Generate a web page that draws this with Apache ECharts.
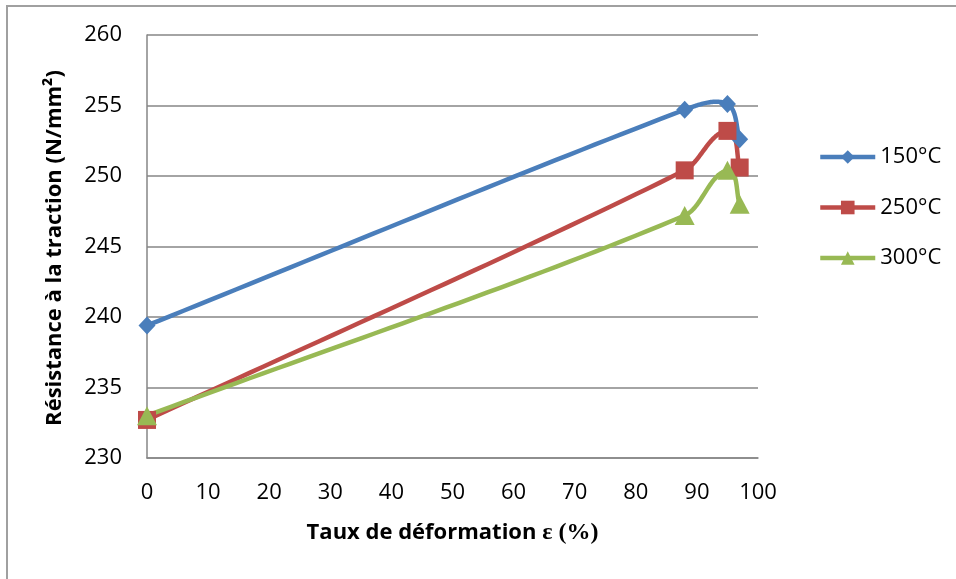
<!DOCTYPE html>
<html>
<head>
<meta charset="utf-8">
<script src="https://cdn.jsdelivr.net/npm/echarts@6/dist/echarts.min.js"></script>
<style>
  html, body { margin: 0; padding: 0; background: #fff; }
  #chart { width: 956px; height: 579px; }
</style>
</head>
<body>
<div id="chart"></div>
<script>
// Deformation rate (%) at each measurement
const strain = [0, 88, 95, 97];

// Tensile strength (N/mm²) per annealing temperature
const temperatures = ['150°C', '250°C', '300°C'];
const strength150 = [239.4, 254.7, 255.1, 252.6];
const strength250 = [232.7, 250.4, 253.2, 250.6];
const strength300 = [233.0, 247.2, 250.4, 248.0];

const colors = ['#4a7ebb', '#be4b48', '#98b954'];
const symbols = ['diamond', 'rect', 'triangle'];
const symbolSizes = [[17, 18], [18, 18], [20, 19]];
const seriesValues = [strength150, strength250, strength300];

const labelFont = '"Open Sans", "Noto Sans", sans-serif';
const LINE_W = 4.5;

// Smoothed curve through the points (pixel space): tangent at each point runs
// parallel to its neighbours' chord, handle length a fraction of the segment.
function smoothPolyline(P, k, steps) {
  const n = P.length;
  const unit = (a, b) => {
    const dx = b[0] - a[0], dy = b[1] - a[1];
    const l = Math.hypot(dx, dy) || 1;
    return [dx / l, dy / l];
  };
  const T = P.map((p, i) => {
    if (i === 0) return unit(P[0], P[1]);
    if (i === n - 1) return unit(P[n - 2], P[n - 1]);
    return unit(P[i - 1], P[i + 1]);
  });
  const out = [P[0]];
  for (let i = 0; i < n - 1; i++) {
    const a = P[i], b = P[i + 1];
    const L = Math.hypot(b[0] - a[0], b[1] - a[1]) * k;
    const c1 = [a[0] + T[i][0] * L, a[1] + T[i][1] * L];
    const c2 = [b[0] - T[i + 1][0] * L, b[1] - T[i + 1][1] * L];
    for (let s = 1; s <= steps; s++) {
      const t = s / steps, u = 1 - t;
      out.push([
        u * u * u * a[0] + 3 * u * u * t * c1[0] + 3 * u * t * t * c2[0] + t * t * t * b[0],
        u * u * u * a[1] + 3 * u * u * t * c1[1] + 3 * u * t * t * c2[1] + t * t * t * b[1]
      ]);
    }
  }
  return out;
}

const chart = echarts.init(document.getElementById('chart'), null, { renderer: 'canvas' });

const series = [];
temperatures.forEach((name, i) => {
  const data = strain.map((x, j) => [x, seriesValues[i][j]]);
  // Smoothed line, drawn from the axis scales
  series.push({
    name: name + ' (courbe)',
    type: 'custom',
    coordinateSystem: 'cartesian2d',
    data: data,
    z: 2,
    silent: true,
    renderItem: (params, api) => {
      if (params.dataIndex !== 0) return null;
      const pts = data.map(d => api.coord(d));
      return {
        type: 'polyline',
        shape: { points: smoothPolyline(pts, 0.3, 40) },
        style: { fill: 'none', stroke: colors[i], lineWidth: LINE_W, lineJoin: 'round', lineCap: 'round' }
      };
    }
  });
  // Markers (and legend entry)
  series.push({
    name: name,
    type: 'line',
    data: data,
    symbol: symbols[i],
    symbolSize: symbolSizes[i],
    showAllSymbol: true,
    lineStyle: { color: colors[i], width: LINE_W, opacity: 0 },
    itemStyle: { color: colors[i], borderWidth: 0 },
    z: 5 + i
  });
});

chart.setOption({
  animation: false,
  backgroundColor: '#ffffff',
  graphic: [{
    type: 'rect',
    shape: { x: 7, y: 6, width: 1200, height: 1200 },
    style: { fill: 'none', stroke: '#a0a0a0', lineWidth: 2 },
    silent: true
  }, {
    type: 'text',
    x: 55,
    y: 248,
    rotation: Math.PI / 2,
    style: {
      text: 'Résistance à la traction (N/mm²)',
      font: 'bold 22px "Open Sans", "Noto Sans", sans-serif',
      fill: '#000',
      align: 'center',
      verticalAlign: 'middle'
    }
  }],
  grid: { left: 147, right: 198, top: 35, bottom: 121, containLabel: false },
  legend: {
    orient: 'vertical',
    left: 818,
    top: 146,
    padding: 0,
    itemWidth: 55,
    itemHeight: 17,
    itemGap: 28.5,
    lineStyle: { opacity: 1, width: LINE_W },
    textStyle: { fontFamily: labelFont, fontSize: 22, lineHeight: 22, color: '#000' },
    data: temperatures
  },
  xAxis: {
    type: 'value',
    min: 0, max: 100, interval: 10,
    name: '{a|Taux de déformation }{b|ε (%)}',
    nameLocation: 'middle',
    nameGap: 63,
    nameTextStyle: {
      rich: {
        a: { fontFamily: labelFont, fontWeight: 'bold', fontSize: 22, color: '#000' },
        b: { fontFamily: '"Liberation Serif", "DejaVu Serif", serif', fontWeight: 'bold', fontSize: 24, color: '#000' }
      }
    },
    axisLine: { show: true, lineStyle: { color: '#868686', width: 1.5 } },
    axisTick: { show: false },
    splitLine: { show: false },
    axisLabel: { fontFamily: labelFont, fontSize: 22, color: '#000', margin: 24 }
  },
  yAxis: {
    type: 'value',
    min: 230, max: 260, interval: 5,
    axisLine: { show: true, lineStyle: { color: '#868686', width: 1.5 } },
    axisTick: { show: false },
    splitLine: { show: true, lineStyle: { color: '#868686', width: 1.5 } },
    axisLabel: { fontFamily: labelFont, fontSize: 22, color: '#000', margin: 25 }
  },
  series: series
});
</script>
</body>
</html>
